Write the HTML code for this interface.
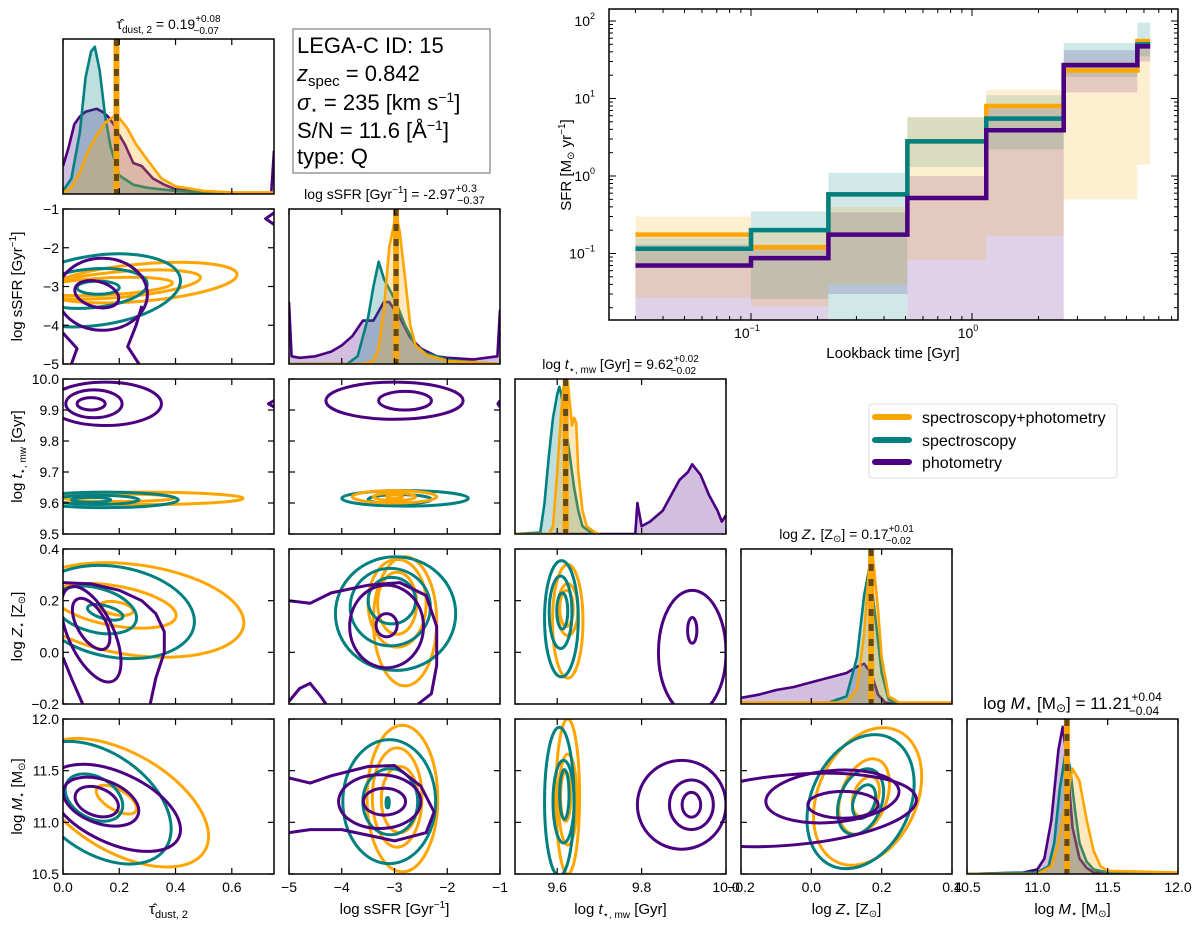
<!DOCTYPE html>
<html><head><meta charset="utf-8">
<style>
html,body{margin:0;padding:0;background:#fff;}
svg{display:block;font-family:"Liberation Sans",Arial,sans-serif;}
</style></head>
<body>
<svg id="fig" width="1200" height="925" viewBox="0 0 1200 925" xmlns="http://www.w3.org/2000/svg">
<defs id="defs"></defs>
<g>
<rect x="293" y="29" width="197" height="144" fill="#fff" stroke="#888" stroke-width="1.3"/>
<text x="297" y="53" font-size="22">LEGA-C ID: 15</text>
<text x="297" y="81" font-size="22"><tspan font-style="italic">z</tspan><tspan font-size="15" dy="5">spec</tspan><tspan dy="-5"> = 0.842</tspan></text>
<text x="297" y="110" font-size="22"><tspan font-style="italic">σ</tspan><tspan font-size="12" dy="4">⋆</tspan><tspan dy="-4"> = 235 [km s</tspan><tspan font-size="14" dy="-8">−1</tspan><tspan dy="8">]</tspan></text>
<text x="297" y="138" font-size="22">S/N = 11.6 [Å<tspan font-size="14" dy="-8">−1</tspan><tspan dy="8">]</tspan></text>
<text x="297" y="164" font-size="22">type: Q</text>
</g>
<g>
<rect x="869" y="404" width="248" height="74" rx="3" fill="#fff" stroke="#ddd" stroke-width="1"/>
<line x1="875" y1="417" x2="909" y2="417" stroke="#FFA500" stroke-width="6" stroke-linecap="round"/>
<text x="922" y="423" font-size="16">spectroscopy+photometry</text>
<line x1="875" y1="440" x2="909" y2="440" stroke="#008080" stroke-width="6" stroke-linecap="round"/>
<text x="922" y="446" font-size="16">spectroscopy</text>
<line x1="875" y1="462" x2="909" y2="462" stroke="#4B0082" stroke-width="6" stroke-linecap="round"/>
<text x="922" y="468" font-size="16">photometry</text>
</g>
</svg>
<script>
// ===== SFH data =====
const sfhEdges = [0.03, 0.1, 0.224, 0.51, 1.16, 2.6, 5.6, 6.4];
const sfhOrange = [0.175, 0.12, 0.58, 2.8, 8.0, 23, 55];
const sfhTeal = [0.115, 0.2, 0.58, 2.8, 5.5, 27, 50];
const sfhPurple = [0.07, 0.087, 0.175, 0.52, 3.9, 27, 47];
const sfhOrangeLo = [0.027, 0.021, 0.04, 0.083, 0.17, 0.5, 1.4];
const sfhOrangeHi = [0.3, 0.2, 0.4, 5.8, 13, 30, 60];
const sfhTealLo = [0.065, 0.026, 0.01, 1.3, 2.2, 19, 35];
const sfhTealHi = [0.16, 0.35, 1.1, 5.7, 11, 52, 95];
const sfhPurpleLo = [0.01, 0.01, 0.03, 0.01, 0.01, 12, 30];
const sfhPurpleHi = [0.13, 0.13, 0.34, 1.0, 7.5, 42, 55];
const sfhXTicks = [0.1, 1];
const sfhXTickLabels = ["−1", "0"];
const sfhYTicks = [0.1, 1, 10, 100];
const sfhYTickLabels = ["−1", "0", "1", "2"];

// ===== corner data =====
const axisRanges = [[0, 0.75], [-5, -1], [9.5, 10.0], [-0.2, 0.4], [10.5, 12.0]];
const xTickVals = [[0, 0.2, 0.4, 0.6], [-5, -4, -3, -2, -1], [9.6, 9.8, 10.0], [-0.2, 0.0, 0.2, 0.4], [10.5, 11.0, 11.5, 12.0]];
const xTickLabels = [["0.0", "0.2", "0.4", "0.6"], ["−5", "−4", "−3", "−2", "−1"], ["9.6", "9.8", "10.0"], ["−0.2", "0.0", "0.2", "0.4"], ["10.5", "11.0", "11.5", "12.0"]];
const yTickVals = [[], [-5, -4, -3, -2, -1], [9.5, 9.6, 9.7, 9.8, 9.9, 10.0], [-0.2, 0.0, 0.2, 0.4], [10.5, 11.0, 11.5, 12.0]];
const yTickLabels = [[], ["−5", "−4", "−3", "−2", "−1"], ["9.5", "9.6", "9.7", "9.8", "9.9", "10.0"], ["−0.2", "0.0", "0.2", "0.4"], ["10.5", "11.0", "11.5", "12.0"]];
const medians = [0.19, -2.97, 9.62, 0.17, 11.21];

// histograms: x values and normalized heights
const histTauX = {o:[0,0.03,0.06,0.09,0.12,0.15,0.18,0.2,0.23,0.26,0.3,0.35,0.4,0.5,0.6,0.75], t:[0,0.03,0.06,0.08,0.1,0.113,0.13,0.15,0.17,0.2,0.25,0.3,0.4,0.5,0.75], p:[0,0.02,0.04,0.06,0.08,0.1,0.12,0.14,0.16,0.18,0.2,0.22,0.25,0.28,0.32,0.36,0.4,0.5,0.6,0.74,0.75]};
const histTauY = {o:[0.01,0.04,0.14,0.28,0.38,0.46,0.5,0.49,0.42,0.32,0.22,0.1,0.05,0.02,0.01,0.01], t:[0.02,0.1,0.4,0.75,0.92,0.95,0.8,0.5,0.3,0.12,0.06,0.04,0.02,0.01,0.005], p:[0.18,0.3,0.45,0.5,0.53,0.54,0.55,0.53,0.5,0.45,0.38,0.32,0.2,0.18,0.1,0.06,0.03,0.01,0.005,0.005,0.28]};
const histSsfrX = {o:[-5,-3.6,-3.4,-3.3,-3.2,-3.1,-3.0,-2.95,-2.9,-2.8,-2.7,-2.6,-2.4,-2.2,-2,-1.5,-1], t:[-5,-3.9,-3.7,-3.5,-3.4,-3.3,-3.2,-3.0,-2.8,-2.6,-2.4,-2.0,-1.5,-1], p:[-5,-4.95,-4.8,-4.5,-4.2,-4.0,-3.8,-3.6,-3.4,-3.2,-3.1,-2.9,-2.7,-2.5,-2.2,-2,-1.5,-1.05,-1]};
const histSsfrY = {o:[0,0,0.02,0.1,0.35,0.75,0.92,0.94,0.85,0.55,0.25,0.12,0.06,0.04,0.02,0.01,0], t:[0,0,0.05,0.3,0.5,0.66,0.55,0.42,0.25,0.12,0.07,0.03,0.01,0], p:[0.4,0.05,0.04,0.05,0.08,0.12,0.18,0.28,0.28,0.4,0.4,0.3,0.17,0.1,0.05,0.04,0.03,0.05,0.35]};
const histAgeX = {o:[9.5,9.58,9.59,9.6,9.61,9.615,9.625,9.635,9.64,9.645,9.65,9.66,9.67,9.69,9.7], t:[9.5,9.56,9.57,9.58,9.59,9.6,9.605,9.61,9.62,9.63,9.64,9.65,9.66,9.68,9.7], p:[9.5,9.785,9.79,9.8,9.82,9.85,9.87,9.89,9.91,9.92,9.94,9.96,9.98,9.99,10.0]};
const histAgeY = {o:[0,0,0.05,0.4,0.8,0.95,0.98,0.7,0.75,0.72,0.4,0.15,0.05,0.01,0], t:[0,0.01,0.2,0.5,0.75,0.9,0.95,0.9,0.7,0.5,0.3,0.15,0.05,0.01,0], p:[0,0,0.2,0.05,0.08,0.15,0.25,0.35,0.4,0.45,0.38,0.25,0.15,0.08,0.12]};
const histZX = {o:[-0.2,0.1,0.13,0.15,0.165,0.175,0.19,0.2,0.22,0.25,0.4], t:[-0.2,0.05,0.1,0.13,0.15,0.165,0.18,0.2,0.22,0.25], p:[-0.2,-0.15,-0.1,-0.05,0,0.05,0.1,0.13,0.15,0.17,0.19,0.21,0.25]};
const histZY = {o:[0.01,0.01,0.1,0.45,0.9,0.95,0.6,0.3,0.05,0.01,0.01], t:[0,0.01,0.05,0.3,0.7,0.88,0.6,0.2,0.03,0], p:[0.04,0.06,0.09,0.11,0.14,0.17,0.2,0.24,0.26,0.2,0.06,0.01,0]};
const histMX = {o:[10.5,11.0,11.1,11.15,11.2,11.25,11.3,11.35,11.4,11.45,11.5,12], t:[10.5,11.0,11.08,11.12,11.16,11.2,11.23,11.27,11.3,11.35,11.4,11.5,12], p:[10.5,10.9,11.0,11.05,11.1,11.15,11.18,11.21,11.25,11.3,11.35,11.4,12]};
const histMY = {o:[0,0,0.05,0.2,0.45,0.68,0.6,0.35,0.15,0.05,0.02,0.01], t:[0,0.01,0.05,0.2,0.55,0.78,0.7,0.4,0.2,0.08,0.03,0.01,0], p:[0,0.01,0.03,0.1,0.35,0.8,0.95,0.75,0.3,0.1,0.04,0.01,0]};

// contours as ellipses: [series, cx, cy, rx, ry, rotationDeg]
const contTauSsfr = [["o",0.28,-2.9,0.34,0.48,-5],["o",0.2,-2.95,0.29,0.33,-5],["o",0.15,-3.0,0.24,0.22,-3],["t",0.12,-3.1,0.3,0.9,-8],["t",0.1,-3.05,0.2,0.5,-5],["t",0.125,-3.03,0.075,0.17,0],["p",0.14,-3.2,0.16,0.93,0],["p",0.12,-3.2,0.08,0.33,15]];
const contTauAge = [["p",0.15,9.92,0.2,0.07,0],["p",0.11,9.92,0.1,0.045,0],["p",0.1,9.92,0.05,0.02,0],["o",0.28,9.615,0.36,0.02,0],["o",0.2,9.617,0.2,0.012,0],["t",0.15,9.61,0.26,0.025,0],["t",0.12,9.61,0.15,0.015,0],["t",0.1,9.61,0.07,0.008,0]];
const contTauZ = [["o",0.256,0.164,0.39,0.175,8],["o",0.185,0.18,0.22,0.077,10],["o",0.19,0.17,0.06,0.025,10],["t",0.185,0.156,0.285,0.175,10],["t",0.115,0.164,0.15,0.085,15],["t",0.15,0.155,0.065,0.025,15],["p",0.1,0.07,0.08,0.2,-25],["p",0.1,0.11,0.05,0.11,-30]];
const contTauM = [["o",0.21,11.19,0.34,0.48,30],["o",0.19,11.22,0.08,0.1,30],["t",0.13,11.19,0.285,0.48,35],["t",0.11,11.24,0.11,0.2,30],["p",0.185,11.14,0.25,0.34,25],["p",0.135,11.2,0.14,0.21,20],["p",0.12,11.2,0.08,0.135,20]];
const contSsfrAge = [["p",-3.0,9.93,1.3,0.06,0],["p",-2.8,9.93,0.5,0.03,0],["t",-2.8,9.615,1.2,0.025,0],["t",-2.9,9.612,0.6,0.015,0],["o",-3.0,9.62,0.8,0.02,0],["o",-3.0,9.62,0.4,0.012,0],["o",-3.0,9.62,0.15,0.006,0]];
const contSsfrZ = [["o",-2.8,0.12,0.6,0.25,0],["o",-2.95,0.19,0.55,0.17,0],["o",-2.95,0.19,0.37,0.12,0],["t",-2.98,0.15,1.14,0.22,0],["t",-3.08,0.175,0.76,0.15,0],["t",-3.05,0.2,0.45,0.09,0],["p",-3.15,0.1,0.7,0.16,0],["p",-3.15,0.105,0.2,0.045,0]];
const contSsfrM = [["o",-2.85,11.23,0.67,0.71,0],["o",-2.95,11.24,0.47,0.48,0],["o",-2.9,11.22,0.35,0.32,0],["t",-3.1,11.2,0.88,0.6,0],["t",-3.08,11.2,0.52,0.32,0],["t",-3.13,11.19,0.03,0.05,0],["p",-3.28,11.2,0.78,0.26,0],["p",-3.19,11.2,0.4,0.13,0]];
const contAgeZ = [["o",9.625,0.12,0.036,0.22,0],["o",9.625,0.165,0.024,0.1,0],["o",9.622,0.17,0.016,0.07,0],["t",9.61,0.13,0.04,0.225,0],["t",9.608,0.155,0.027,0.14,0],["t",9.612,0.16,0.013,0.07,0],["p",9.92,0.0,0.08,0.24,0],["p",9.92,0.085,0.011,0.05,0]];
const contAgeM = [["o",9.625,11.25,0.028,0.75,0],["o",9.625,11.22,0.022,0.44,0],["o",9.62,11.25,0.012,0.24,0],["t",9.605,11.2,0.035,0.72,0],["t",9.615,11.2,0.025,0.4,0],["t",9.617,11.27,0.011,0.24,0],["p",9.895,11.17,0.105,0.43,0],["p",9.918,11.17,0.052,0.24,0],["p",9.918,11.17,0.022,0.12,0]];
const contZM = [["o",0.16,11.25,0.14,0.7,25],["o",0.15,11.25,0.065,0.38,20],["o",0.155,11.25,0.035,0.2,20],["t",0.14,11.2,0.14,0.68,25],["t",0.14,11.2,0.06,0.33,20],["t",0.15,11.2,0.03,0.17,20],["p",-0.06,11.12,0.36,0.34,-5],["p",0.06,11.25,0.19,0.25,-5],["p",0.09,11.17,0.1,0.13,0]];
// open contour fragments: [series, [[x,y],...]]
const openTauSsfr = [["p",[[0,-4.2],[0.05,-4.6],[0.03,-5]]],["p",[[0.28,-3.5],[0.26,-4.0],[0.23,-4.55],[0.27,-5]]],["p",[[0.75,-1.1],[0.72,-1.25],[0.75,-1.4]]]];
const openTauAge = [["p",[[0.75,9.91],[0.73,9.92],[0.75,9.93]]]];
const openTauZ = [["p",[[0,0.27],[0.1,0.265],[0.2,0.24],[0.28,0.2],[0.33,0.15],[0.36,0.08],[0.36,0.0],[0.33,-0.1],[0.31,-0.2]]],["p",[[0,-0.02],[0.03,-0.1],[0.07,-0.2]]]];
const openSsfrAge = [["p",[[-1,9.91],[-1.04,9.92],[-1,9.93]]]];
const openSsfrZ = [["p",[[-5,0.2],[-4.6,0.19],[-4.2,0.23],[-3.5,0.26],[-2.9,0.27],[-2.4,0.22],[-2.2,0.1],[-2.2,-0.05],[-2.3,-0.16],[-2.55,-0.2]]],["p",[[-5,-0.19],[-4.8,-0.14],[-4.6,-0.12],[-4.4,-0.17],[-4.3,-0.2]]]];
const openSsfrM = [["p",[[-5,11.43],[-4.6,11.38],[-4.2,11.45],[-3.5,11.54],[-3.0,11.55],[-2.5,11.35],[-2.25,11.1],[-2.4,10.9],[-3,10.82],[-4,10.93],[-4.6,10.93],[-5,10.9]]]];

const histByDim = [[histTauX,histTauY],[histSsfrX,histSsfrY],[histAgeX,histAgeY],[histZX,histZY],[histMX,histMY]];
const contByPanel = {"1-0":[contTauSsfr,openTauSsfr],"2-0":[contTauAge,openTauAge],"3-0":[contTauZ,openTauZ],"4-0":[contTauM,[]],"2-1":[contSsfrAge,openSsfrAge],"3-1":[contSsfrZ,openSsfrZ],"4-1":[contSsfrM,openSsfrM],"3-2":[contAgeZ,[]],"4-2":[contAgeM,[]],"4-3":[contZM,[]]};

const COL = {o:'#FFA500', t:'#008080', p:'#4B0082'};
const SERIES_NAME = {o:'spec-phot', t:'spectroscopy', p:'photometry'};
const svg = document.getElementById('fig');
const defs = document.getElementById('defs');
const NS = 'http://www.w3.org/2000/svg';
function mk(tag, attrs, parent){const e=document.createElementNS(NS,tag);for(const k in attrs)e.setAttribute(k,attrs[k]);(parent||svg).appendChild(e);return e;}

const colX=[63,289,515,741,967], rowY=[39,209,379,549,719], W=211, H=155;
function sx(d,v,c){const r=axisRanges[d];return colX[c]+(v-r[0])/(r[1]-r[0])*W;}
function sy(d,v,r0){const r=axisRanges[d];return rowY[r0]+H-(v-r[0])/(r[1]-r[0])*H;}

function xLabel(c, x, y, g, rotate){
  const t = mk('text',{x:x,y:y,'font-size':15,'text-anchor':'middle'},g);
  if(rotate) t.setAttribute('transform',`rotate(-90 ${x} ${y})`);
  if(c===0){t.innerHTML='τ̂<tspan font-size="11" dy="4">dust, 2</tspan>';}
  if(c===1){t.innerHTML='log sSFR [Gyr<tspan font-size="10" dy="-6">−1</tspan><tspan dy="6">]</tspan>';}
  if(c===2){t.innerHTML='log <tspan font-style="italic">t</tspan><tspan font-size="10" dy="4">⋆, mw</tspan><tspan dy="-4"> [Gyr]</tspan>';}
  if(c===3){t.innerHTML='log <tspan font-style="italic">Z</tspan><tspan font-size="10" dy="3">⋆</tspan><tspan dy="-3"> [Z</tspan><tspan font-size="10" dy="3">⊙</tspan><tspan dy="-3">]</tspan>';}
  if(c===4){t.innerHTML='log <tspan font-style="italic">M</tspan><tspan font-size="10" dy="3">⋆</tspan><tspan dy="-3"> [M</tspan><tspan font-size="10" dy="3">⊙</tspan><tspan dy="-3">]</tspan>';}
  return t;
}
const titleHTML = [
 'τ̂<tspan font-size="10" dy="4">dust, 2</tspan><tspan dy="-4"> = 0.19</tspan><tspan font-size="10" dy="-7">+0.08</tspan><tspan font-size="10" dx="-27" dy="12">−0.07</tspan>',
 'log sSFR [Gyr<tspan font-size="10" dy="-6">−1</tspan><tspan dy="6">] = -2.97</tspan><tspan font-size="11" dy="-7">+0.3</tspan><tspan font-size="11" dx="-20" dy="12">−0.37</tspan>',
 'log <tspan font-style="italic">t</tspan><tspan font-size="10" dy="4">⋆, mw</tspan><tspan dy="-4"> [Gyr] = 9.62</tspan><tspan font-size="10" dy="-7">+0.02</tspan><tspan font-size="10" dx="-28" dy="12">−0.02</tspan>',
 'log <tspan font-style="italic">Z</tspan><tspan font-size="10" dy="3">⋆</tspan><tspan dy="-3"> [Z</tspan><tspan font-size="10" dy="3">⊙</tspan><tspan dy="-3">] = 0.17</tspan><tspan font-size="10" dy="-7">+0.01</tspan><tspan font-size="10" dx="-28" dy="12">−0.02</tspan>',
 'log <tspan font-style="italic">M</tspan><tspan font-size="12" dy="3">⋆</tspan><tspan dy="-3"> [M</tspan><tspan font-size="12" dy="3">⊙</tspan><tspan dy="-3">] = 11.21</tspan><tspan font-size="12" dy="-8">+0.04</tspan><tspan font-size="12" dx="-33" dy="14">−0.04</tspan>'
];

for(let r=0;r<5;r++){
  for(let c=0;c<=r;c++){
    const g = mk('g',{});
    
    
    const x0=colX[c], y0=rowY[r];
    const cid=`clip${r}${c}`;
    const cp=mk('clipPath',{id:cid},defs); mk('rect',{x:x0,y:y0,width:W,height:H},cp);
    const inner = mk('g',{'clip-path':`url(#${cid})`},g);
    if(r===c){
      const [HX,HY]=histByDim[c];
      for(const s of ['p','t','o']){
        const pts=HX[s].map((v,i)=>`${sx(c,v,c).toFixed(1)},${(y0+H-HY[s][i]*H).toFixed(1)}`);
        const first=sx(c,HX[s][0],c), last=sx(c,HX[s][HX[s].length-1],c);
        const fill=mk('polygon',{points:`${first},${y0+H} ${pts.join(' ')} ${last},${y0+H}`,fill:COL[s],'fill-opacity':0.25,stroke:'none'},inner);
        
        
        const ln=mk('polyline',{points:pts.join(' '),fill:'none',stroke:COL[s],'stroke-width':2.6,'stroke-linejoin':'round'},inner);
        
        
      }
      const mx=sx(c,medians[c],c);
      const med=mk('line',{x1:mx,y1:y0,x2:mx,y2:y0+H,stroke:'#FFA500','stroke-width':6},inner);
      
      
      mk('line',{x1:mx,y1:y0,x2:mx,y2:y0+H,stroke:'#222','stroke-width':5,'stroke-dasharray':'7 8','stroke-opacity':0.7},inner);
      const tt=mk('text',{x:x0+W/2,y:y0-10,'font-size':c===4?17:14,'text-anchor':'middle'},g);
      tt.innerHTML=titleHTML[c];
      
      
    } else {
      const [ells,opens]=contByPanel[`${r}-${c}`];
      const rxScale=W/(axisRanges[c][1]-axisRanges[c][0]), ryScale=H/(axisRanges[r][1]-axisRanges[r][0]);
      for(const e of ells){
        const cx=sx(c,e[1],c), cy=sy(r,e[2],r);
        const el=mk('ellipse',{cx:cx,cy:cy,rx:e[3]*rxScale,ry:e[4]*ryScale,transform:`rotate(${e[5]} ${cx} ${cy})`,fill:'none',stroke:COL[e[0]],'stroke-width':3},inner);
        
        
      }
      for(const o of opens){
        const pts=o[1].map(p=>`${sx(c,p[0],c).toFixed(1)},${sy(r,p[1],r).toFixed(1)}`).join(' ');
        const pl=mk('polyline',{points:pts,fill:'none',stroke:COL[o[0]],'stroke-width':3,'stroke-linejoin':'round'},inner);
        
        
      }
    }
    mk('rect',{x:x0,y:y0,width:W,height:H,fill:'none',stroke:'#000','stroke-width':1.5},g);
    xTickVals[c].forEach((v,i)=>{
      const x=sx(c,v,c);
      mk('line',{x1:x,y1:y0+H,x2:x,y2:y0+H-6,stroke:'#000','stroke-width':1.2},g);
      mk('line',{x1:x,y1:y0,x2:x,y2:y0+6,stroke:'#000','stroke-width':1.2},g);
      if(r===4){
        const tl=mk('text',{x:x,y:y0+H+18,'font-size':14,'text-anchor':'middle'},g);
        tl.textContent=xTickLabels[c][i];
        
        
      }
    });
    if(r!==c){
      yTickVals[r].forEach((v,i)=>{
        const y=sy(r,v,r);
        mk('line',{x1:x0,y1:y,x2:x0+6,y2:y,stroke:'#000','stroke-width':1.2},g);
        mk('line',{x1:x0+W,y1:y,x2:x0+W-6,y2:y,stroke:'#000','stroke-width':1.2},g);
        if(c===0){
          const tl=mk('text',{x:x0-4,y:y+5,'font-size':14,'text-anchor':'end'},g);
          tl.textContent=yTickLabels[r][i];
          
          
        }
      });
    }
    if(r===4){
      const xl=xLabel(c, x0+W/2, y0+H+40, g, false);
      
      
    }
    if(c===0 && r>0){
      const yl=xLabel(r, 22, y0+H/2, g, true);
      
      
    }
  }
}

// ===== SFH panel =====
const SX0=609, SX1=1178, SY0=9, SY1=320;
function tx(t){return 972+221*Math.log10(t);}
function ty(v){const y=176-77.5*Math.log10(v);return Math.min(SY1,Math.max(SY0,y));}
const sg=mk('g',{});


const scp=mk('clipPath',{id:'sfhclip'},defs); mk('rect',{x:SX0,y:SY0,width:SX1-SX0,height:SY1-SY0},scp);
const sin=mk('g',{'clip-path':'url(#sfhclip)'},sg);
const bands=[['p',sfhPurpleLo,sfhPurpleHi],['t',sfhTealLo,sfhTealHi],['o',sfhOrangeLo,sfhOrangeHi]];
for(const [s,lo,hi] of bands){
  for(let i=0;i<sfhEdges.length-1;i++){
    const x1=tx(sfhEdges[i]), x2=tx(sfhEdges[i+1]);
    const b=mk('rect',{x:x1,y:ty(hi[i]),width:x2-x1,height:ty(lo[i])-ty(hi[i]),fill:COL[s],'fill-opacity':0.18},sin);
    
    
  }
}
for(const [s,vals] of [['o',sfhOrange],['t',sfhTeal],['p',sfhPurple]]){
  let d='';
  for(let i=0;i<vals.length;i++){
    const x1=tx(sfhEdges[i]), x2=tx(sfhEdges[i+1]), y=ty(vals[i]);
    d += (i===0?`M${x1},${y}`:`L${x1},${y}`)+` L${x2},${y}`;
  }
  const p=mk('path',{d:d,fill:'none',stroke:COL[s],'stroke-width':4.5,'stroke-linejoin':'miter'},sin);
  
  
}
mk('rect',{x:SX0,y:SY0,width:SX1-SX0,height:SY1-SY0,fill:'none',stroke:'#000','stroke-width':1.5},sg);
for(let e=-2;e<=0;e++){for(let m=1;m<10;m++){const t=m*Math.pow(10,e);const x=tx(t);if(x<SX0||x>SX1)continue;const L=m===1?7:4;
  mk('line',{x1:x,y1:SY1,x2:x,y2:SY1-L,stroke:'#000','stroke-width':1},sg);mk('line',{x1:x,y1:SY0,x2:x,y2:SY0+L,stroke:'#000','stroke-width':1},sg);}}
for(let e=-2;e<=2;e++){for(let m=1;m<10;m++){const v=m*Math.pow(10,e);const y=176-77.5*Math.log10(v);if(y<SY0||y>SY1)continue;const L=m===1?7:4;
  mk('line',{x1:SX0,y1:y,x2:SX0+L,y2:y,stroke:'#000','stroke-width':1},sg);mk('line',{x1:SX1,y1:y,x2:SX1-L,y2:y,stroke:'#000','stroke-width':1},sg);}}
sfhXTicks.forEach((t,i)=>{const l=mk('text',{x:tx(t)-4,y:SY1+18,'font-size':14,'text-anchor':'middle'},sg);
  l.innerHTML=`10<tspan font-size="9" dy="-7">${sfhXTickLabels[i]}</tspan>`;
  
  });
sfhYTicks.forEach((v,i)=>{const l=mk('text',{x:SX0-14,y:176-77.5*Math.log10(v)+5,'font-size':14,'text-anchor':'end'},sg);
  l.innerHTML=`10<tspan font-size="9" dy="-7">${sfhYTickLabels[i]}</tspan>`;
  
  });
const sxl=mk('text',{x:893,y:358,'font-size':15,'text-anchor':'middle'},sg);
sxl.textContent='Lookback time [Gyr]';


const syl=mk('text',{x:571,y:165,'font-size':15,'text-anchor':'middle',transform:'rotate(-90 571 165)'},sg);
syl.innerHTML='SFR [M<tspan font-size="10" dy="3">⊙</tspan><tspan dy="-3"> yr</tspan><tspan font-size="10" dy="-6">−1</tspan><tspan dy="6">]</tspan>';


</script>
</body></html>
